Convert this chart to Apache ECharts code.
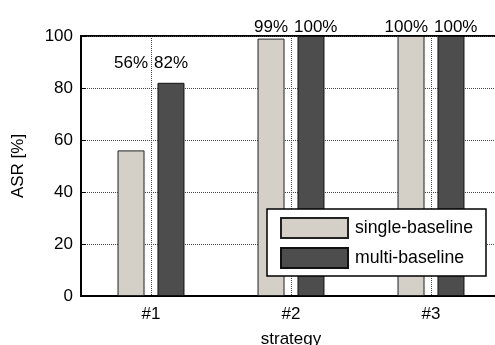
<!DOCTYPE html>
<html>
<head>
<meta charset="utf-8">
<script src="https://cdn.jsdelivr.net/npm/echarts@6/dist/echarts.min.js"></script>
<style>
  html, body { margin: 0; padding: 0; background: #fff; }
  #chart { width: 495px; height: 345px; }
</style>
</head>
<body>
<div id="chart"></div>
<script>
// Attack success rate per strategy
const strategies = ['#1', '#2', '#3'];
const singleBaseline = [56, 99, 100];
const multiBaseline = [82, 100, 100];
const seriesNames = ['single-baseline', 'multi-baseline'];
const yTicks = { min: 0, max: 100, step: 20 };

// height (in axis units) at which each group's percentage labels sit
const labelLevel = [89.6, 103.5, 103.5];

const FONT = 'Liberation Sans, Arial, Helvetica, sans-serif';
const FS = 17;
const FS_LEGEND = 17.7;

const chart = echarts.init(document.getElementById('chart'), null, { renderer: 'canvas' });

const pct = v => v + '%';

// invisible anchor series carrying the percentage text above each group
function valueLabels(values, side) {
  return {
    type: 'scatter', symbolSize: 0, clip: false, silent: true,
    itemStyle: { opacity: 1 },
    data: strategies.map((s, i) => ({ value: [s, labelLevel[i]], v: values[i] })),
    label: {
      show: true, position: 'inside', opacity: 1,
      align: side < 0 ? 'right' : 'left', offset: [3 * side, 0],
      fontFamily: FONT, fontSize: FS, color: '#000',
      formatter: p => pct(p.data.v)
    }
  };
}

chart.setOption({
  animation: false,
  backgroundColor: '#fff',
  textStyle: { fontFamily: FONT, fontSize: FS, color: '#000' },
  grid: {
    left: 81, top: 36, width: 420, height: 260,
    outerBoundsMode: 'none', containLabel: false,
    show: true, borderColor: '#000', borderWidth: 2, backgroundColor: 'transparent'
  },
  legend: {
    orient: 'vertical',
    left: 267, top: 209,
    backgroundColor: '#fff',
    borderColor: '#000', borderWidth: 1.5, borderRadius: 0,
    padding: [8, 13, 7, 13],
    itemWidth: 67, itemHeight: 20, itemGap: 8,
    icon: 'rect',
    textStyle: { fontFamily: FONT, fontSize: FS_LEGEND, color: '#000', padding: [0, 0, 0, 2] },
    data: seriesNames
  },
  xAxis: {
    type: 'category',
    data: strategies,
    name: 'strategy',
    nameLocation: 'middle',
    nameGap: 35,
    nameTextStyle: { fontFamily: FONT, fontSize: FS, color: '#000' },
    axisLine: { lineStyle: { color: '#000', width: 2 } },
    axisTick: { inside: true, length: 5, alignWithLabel: true, lineStyle: { color: '#000' } },
    axisLabel: { margin: 10, fontFamily: FONT, fontSize: FS, color: '#000' },
    splitLine: { show: true, alignWithLabel: true, lineStyle: { color: '#444', type: 'dotted', width: 1 } }
  },
  yAxis: {
    type: 'value',
    min: yTicks.min, max: yTicks.max, interval: yTicks.step,
    name: 'ASR [%]',
    nameLocation: 'middle',
    nameGap: 54,
    nameTextStyle: { fontFamily: FONT, fontSize: FS, color: '#000' },
    axisLine: { show: true, lineStyle: { color: '#000', width: 2 } },
    axisTick: { show: true, inside: true, length: 5, lineStyle: { color: '#000' } },
    axisLabel: { margin: 8, fontFamily: FONT, fontSize: FS, color: '#000' },
    splitLine: { show: true, lineStyle: { color: '#444', type: 'dotted', width: 1 } }
  },
  series: [
    {
      name: seriesNames[0], type: 'bar', data: singleBaseline,
      barWidth: 27, barGap: '48%',
      itemStyle: { color: '#d4d0c8', borderColor: '#222', borderWidth: 1 }
    },
    {
      name: seriesNames[1], type: 'bar', data: multiBaseline,
      barWidth: 27, barGap: '48%',
      itemStyle: { color: '#4d4d4d', borderColor: '#111', borderWidth: 1 }
    },
    valueLabels(singleBaseline, -1),
    valueLabels(multiBaseline, 1)
  ]
});
</script>
</body>
</html>
